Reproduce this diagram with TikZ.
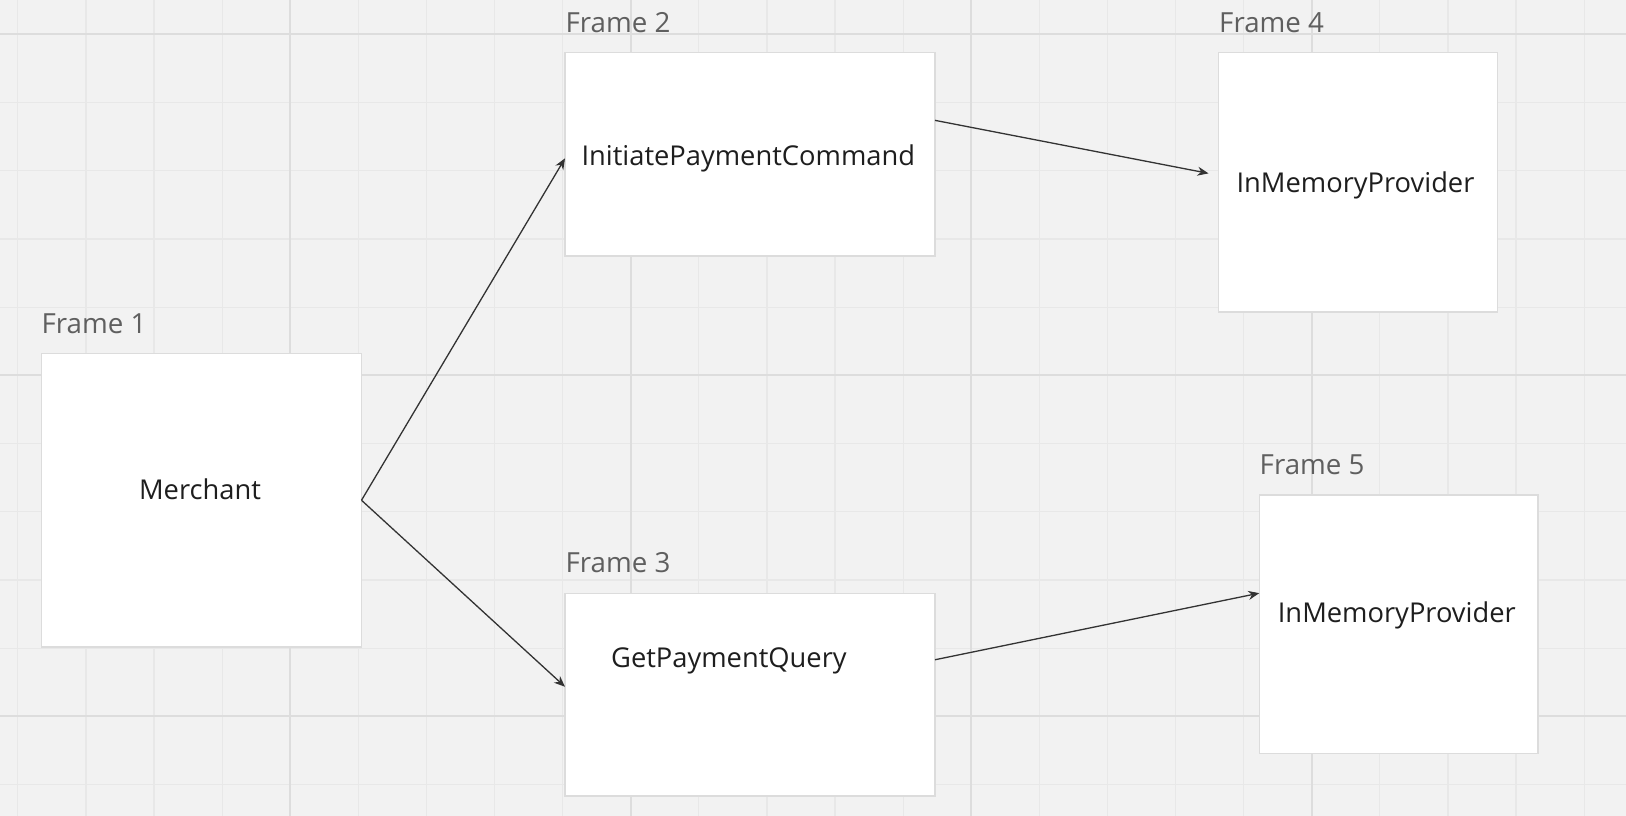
\documentclass[tikz,border=0pt]{standalone}
\usepackage{fontspec}
\setmainfont{Open Sans}
\usetikzlibrary{arrows.meta,calc}
\definecolor{bgc}{HTML}{F2F2F2}
\definecolor{minorc}{HTML}{E8E8E8}
\definecolor{majorc}{HTML}{DDDDDD}
\definecolor{boxc}{HTML}{DCDCDC}
\definecolor{labelc}{HTML}{5F5F5F}
\definecolor{textc}{HTML}{1E1E1E}
\definecolor{arrowc}{HTML}{333333}
\tikzset{
  minorline/.style={draw=minorc,line width=1.2pt},
  majorline/.style={draw=majorc,line width=2pt},
  framebox/.style={rectangle,draw=boxc,line width=1.6pt,fill=white,inner sep=0pt,outer sep=0pt},
  framelabel/.style={anchor=base west,inner sep=0pt,text=labelc,font=\fontsize{27.7}{32}\selectfont},
  boxtext/.style={anchor=base,inner sep=0pt,text=textc,font=\fontsize{27.3}{32}\selectfont},
  conn/.style={draw=arrowc,line width=1.3pt,-{Stealth[length=11pt,width=9pt]}}
}
\begin{document}
\begin{tikzpicture}[x=1pt,y=-1pt]
\useasboundingbox (0,0) rectangle (1626,816);
\fill[bgc] (0,0) rectangle (1626,816);
% grid
\foreach \k in {0,...,23} \draw[minorline] ({17.8+\k*68.1},0) -- ({17.8+\k*68.1},816);
\foreach \k in {0,...,11} \draw[minorline] (0,{34.3+\k*68.2}) -- (1626,{34.3+\k*68.2});
\foreach \k in {4,9,14,19} \draw[majorline] ({17.8+\k*68.1},0) -- ({17.8+\k*68.1},816);
\foreach \k in {0,5,10} \draw[majorline] (0,{34.3+\k*68.2}) -- (1626,{34.3+\k*68.2});
% frames
\node[framebox,minimum width=320pt,minimum height=293.5pt] (f1) at (201.5,500.25) {};
\node[framebox,minimum width=370pt,minimum height=203.3pt] (f2) at (750,154.35) {};
\node[framebox,minimum width=370pt,minimum height=202.5pt] (f3) at (750,694.75) {};
\node[framebox,minimum width=279pt,minimum height=259.3pt] (f4) at (1358,182.35) {};
\node[framebox,minimum width=278.7pt,minimum height=258.3pt] (f5) at (1398.65,624.15) {};
% frame labels
\node[framelabel] (l1) at (41.5,333.3) {Frame 1};
\node[framelabel] (l2) at (565.5,32.7) {Frame 2};
\node[framelabel] (l3) at (565.5,572.7) {Frame 3};
\node[framelabel] (l4) at (1219,32.7) {Frame 4};
\node[framelabel] (l5) at (1259.5,474) {Frame 5};
% texts
\node[boxtext] (t1) at (200,499) {Merchant};
\node[boxtext] (t2) at (748.3,165) {InitiatePaymentCommand};
\node[boxtext] (t3) at (728.9,667.3) {GetPaymentQuery};
\node[boxtext] (t4) at (1355.5,192.7) {InMemoryProvider};
\node[boxtext] (t5) at (1396.8,622.7) {InMemoryProvider};
% connectors
\draw[conn] (f1.east) -- ($(f2.west)+(0,4)$);
\draw[conn] (f1.east) -- ($(f3.west)+(0,-8)$);
\draw[conn] ($(f2.east)+(0,-34)$) -- ($(f4.west)+(-10,-9)$);
\draw[conn] ($(f3.east)+(0,-35)$) -- ($(f5.west)+(0,-31)$);
\end{tikzpicture}
\end{document}
